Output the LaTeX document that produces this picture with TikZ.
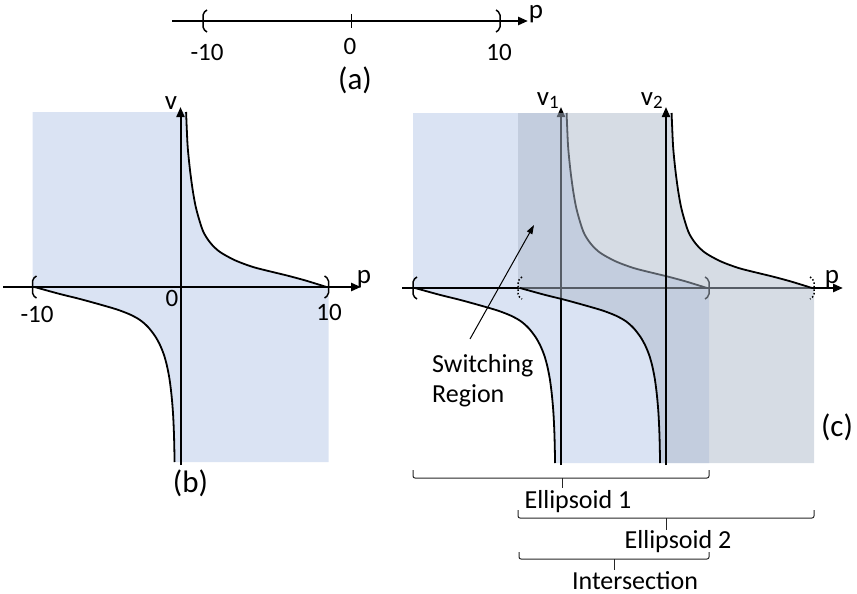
\documentclass[tikz,border=0pt]{standalone}
\usepackage{fontspec}
\setmainfont{Carlito}
\usetikzlibrary{arrows.meta}
\definecolor{eone}{RGB}{218,227,243}
\definecolor{etwo}{RGB}{173,185,202}
\newcommand\ellshape[1]{%
  \path[#1] (-148,-175) -- (5.6,-175) -- plot[smooth] coordinates {(5.6,-175) (6.2,-160) (7.2,-140) (9.5,-117) (12.5,-95) (16,-77) (22.5,-56) (30,-44) (39.5,-35) (55,-26.5) (72.5,-20) (90,-15.5) (106.5,-11.5) (125,-6.5) (146,0)}
  -- (148,0) -- (148,175) -- (-5.9,175) -- plot[smooth] coordinates {(-5.9,175) (-6.5,148) (-7.5,126) (-9,108) (-11,92) (-13.5,79) (-16.5,68) (-20.5,58) (-25.5,49) (-32.5,40) (-40.5,33) (-50.5,27.5) (-63.5,22.5) (-80.5,17.5) (-100.5,12) (-122.5,6.5) (-146,0)}
  -- (-148,0) -- cycle;}
\newcommand\upcurve[1]{\draw[#1] plot[smooth] coordinates {(5.6,-175) (6.2,-160) (7.2,-140) (9.5,-117) (12.5,-95) (16,-77) (22.5,-56) (30,-44) (39.5,-35) (55,-26.5) (72.5,-20) (90,-15.5) (106.5,-11.5) (125,-6.5) (146,0)};}
\newcommand\lowcurve[1]{\draw[#1] plot[smooth] coordinates {(-5.9,175) (-6.5,148) (-7.5,126) (-9,108) (-11,92) (-13.5,79) (-16.5,68) (-20.5,58) (-25.5,49) (-32.5,40) (-40.5,33) (-50.5,27.5) (-63.5,22.5) (-80.5,17.5) (-100.5,12) (-122.5,6.5) (-146,0)};}
\newcommand\lbrk[1]{\draw[#1] (4,-11) -- (0,-8) -- (0,8) -- (4,11);}
\newcommand\rbrk[1]{\draw[#1] (-4,-11) -- (0,-8) -- (0,8) -- (-4,11);}
\begin{document}
\begin{tikzpicture}[x=1pt,y=-1pt,
  paxis/.style={line width=2.6pt},
  vaxis/.style={line width=2pt},
  curve/.style={line width=1.8pt},
  tip/.style={-{Triangle[length=10pt,width=8pt]}},
  brk/.style={line width=1.5pt, rounded corners=2pt},
  dbrk/.style={line width=1.5pt, rounded corners=2pt, dotted},
  bracestyle/.style={line width=1pt, rounded corners=2pt, black!85},
  lbl/.style={font=\fontsize{26}{30}\selectfont, inner sep=0pt, anchor=base},
  axl/.style={font=\fontsize{27}{30}\selectfont, inner sep=0pt, anchor=base},
  panellbl/.style={font=\fontsize{31}{34}\selectfont, inner sep=0pt, anchor=base},
  num/.style={font=\fontsize{25}{28}\selectfont, inner sep=0pt, anchor=base}]
\useasboundingbox (0,0) rectangle (857,594);
% ---------- (a)
\coordinate (a0) at (172,21);
\coordinate (a1) at (528,21);
\draw[paxis,tip] (a0) -- (a1);
\draw[line width=1pt] (351,14) -- (351,28);
\begin{scope}[shift={(203,21)}]\lbrk{brk}\end{scope}
\begin{scope}[shift={(500,21)}]\rbrk{brk}\end{scope}
\node[axl] (pa) at (536,19) {p};
\node[num] (am10) at (207,61) {-10};
\node[num] (a00) at (350,55) {0};
\node[num] (a10) at (499,60) {10};
\node[panellbl] (la) at (355,89) {(a)};
% ---------- (b)
\begin{scope}[shift={(180.5,287)}]
  \ellshape{fill=eone}
\end{scope}
\coordinate (b0) at (3,287);
\coordinate (b1) at (361,287);
\draw[paxis,tip] (b0) -- (b1);
\coordinate (bv0) at (180.5,465);
\coordinate (bv1) at (180.5,107);
\draw[vaxis,tip] (bv0) -- (bv1);
\begin{scope}[shift={(180.5,287)}]
  \upcurve{curve}
  \lowcurve{curve}
\end{scope}
\begin{scope}[shift={(32.5,287)}]\lbrk{brk}\end{scope}
\begin{scope}[shift={(328.5,287)}]\rbrk{brk}\end{scope}
\node[axl] (vb) at (171,110) {v};
\node[axl] (pb) at (364,283) {p};
\node[num] (bm10) at (37,322) {-10};
\node[num] (b00) at (172,306) {0};
\node[num] (b10) at (329,320) {10};
\node[panellbl] (lb) at (190.5,492) {(b)};
% ---------- (c)
\begin{scope}[shift={(561,288)}]
  \ellshape{fill=eone}
\end{scope}
\coordinate (c0) at (402,288);
\coordinate (c1) at (812,288);
\coordinate (c2) at (843,288);
\draw[paxis] (c0) -- (c1);
\coordinate (v1a) at (561,465);
\coordinate (v1b) at (561,107);
\draw[vaxis,tip] (v1a) -- (v1b);
\begin{scope}[shift={(561,288)}]
  \upcurve{curve}
  \lowcurve{curve}
\end{scope}
\begin{scope}[shift={(413,288)}]\lbrk{brk}\end{scope}
\begin{scope}[shift={(709,288)}]\rbrk{brk}\end{scope}
\begin{scope}[shift={(666,288)}]
  \ellshape{fill=etwo, fill opacity=0.5}
\end{scope}
\draw[paxis,tip] (c1) -- (c2);
\coordinate (v2a) at (666,465);
\coordinate (v2b) at (666,107);
\draw[vaxis,tip] (v2a) -- (v2b);
\begin{scope}[shift={(666,288)}]
  \upcurve{curve}
  \lowcurve{curve}
\end{scope}
\begin{scope}[shift={(518,288)}]\lbrk{dbrk}\end{scope}
\begin{scope}[shift={(814,288)}]\rbrk{dbrk}\end{scope}
\node[axl] (pc) at (832,283) {p};
\node[axl] (v1) at (548,105) {v\textsubscript{1}};
\node[axl] (v2) at (652,105) {v\textsubscript{2}};
\node[panellbl] (lc) at (837,436) {(c)};
% switching region
\node[lbl, anchor=base west] (sw1) at (432,372) {Switching};
\node[lbl, anchor=base west] (sw2) at (432,402) {Region};
\coordinate (swtail) at (470,339);
\coordinate (swtip) at (534,225);
\draw[line width=1pt, -{Triangle[length=9pt,width=6pt]}] (swtail) -- (swtip);
% braces
\draw[bracestyle] (413,470) -- (413,478) -- (709,478) -- (709,470);
\draw[bracestyle] (562,478) -- (562,488);
\node[lbl] (e1) at (578,508) {Ellipsoid 1};
\draw[bracestyle] (518,510) -- (518,518) -- (814,518) -- (814,510);
\draw[bracestyle] (666,518) -- (666,530);
\node[lbl] (e2) at (678,548) {Ellipsoid 2};
\draw[bracestyle] (519,552) -- (519,559) -- (709,559) -- (709,552);
\draw[bracestyle] (614,559) -- (614,570);
\node[lbl] (is) at (635,589) {Intersection};
\end{tikzpicture}
\end{document}
